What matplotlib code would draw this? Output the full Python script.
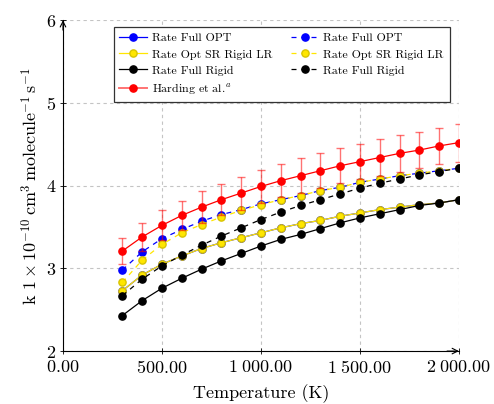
import matplotlib
matplotlib.use('Agg')
import matplotlib.pyplot as plt
from matplotlib.ticker import FuncFormatter, MultipleLocator

plt.rcParams.update({
    'font.family': 'serif',
    'font.serif': ['cmr10', 'DejaVu Serif'],
    'mathtext.fontset': 'cm',
    'axes.unicode_minus': False,
    'axes.formatter.use_mathtext': True,
})

# temperatures (K)
temps = [300, 400, 500, 600, 700, 800, 900, 1000, 1100, 1200,
         1300, 1400, 1500, 1600, 1700, 1800, 1900, 2000]

# rate constants, 1e-10 cm3 molecule-1 s-1
full_opt = [2.73, 2.92, 3.05, 3.15, 3.24, 3.31, 3.37, 3.43, 3.49, 3.54,
            3.58, 3.63, 3.67, 3.71, 3.74, 3.77, 3.79, 3.83]
full_opt_d = [2.98, 3.20, 3.36, 3.47, 3.57, 3.65, 3.71, 3.78, 3.83, 3.88,
              3.94, 3.98, 4.04, 4.08, 4.12, 4.15, 4.18, 4.21]
opt_sr = [2.73, 2.92, 3.05, 3.15, 3.24, 3.31, 3.37, 3.43, 3.49, 3.54,
          3.58, 3.63, 3.67, 3.71, 3.74, 3.77, 3.79, 3.83]
opt_sr_d = [2.83, 3.10, 3.29, 3.43, 3.53, 3.62, 3.70, 3.77, 3.83, 3.88,
            3.94, 3.98, 4.04, 4.08, 4.12, 4.15, 4.18, 4.21]
full_rigid = [2.43, 2.61, 2.76, 2.88, 2.99, 3.09, 3.18, 3.27, 3.35, 3.41,
              3.48, 3.55, 3.61, 3.66, 3.71, 3.76, 3.79, 3.83]
full_rigid_d = [2.67, 2.87, 3.03, 3.16, 3.28, 3.39, 3.49, 3.59, 3.68, 3.76,
                3.83, 3.90, 3.97, 4.03, 4.08, 4.13, 4.17, 4.21]
harding = [3.21, 3.38, 3.52, 3.64, 3.74, 3.83, 3.91, 3.99, 4.06, 4.12,
           4.18, 4.24, 4.29, 4.34, 4.39, 4.43, 4.48, 4.52]
harding_err = [0.16, 0.17, 0.18, 0.18, 0.19, 0.19, 0.20, 0.20, 0.20, 0.21,
               0.21, 0.21, 0.21, 0.22, 0.22, 0.22, 0.22, 0.23]

BLUE = '#0000ff'
YEL = '#ffe600'
BLK = '#000000'
RED = '#ff0000'

fig = plt.figure(figsize=(4.94, 4.04), dpi=100)
ax = fig.add_axes([0.1275, 0.131, 0.8015, 0.819])

kw = dict(marker='o', ms=5.2, lw=0.9)
dash = (4, 4)
h1, = ax.plot(temps, full_opt, color=BLUE, mec=BLUE, **kw)
h2, = ax.plot(temps, full_opt_d, color=BLUE, mec=BLUE, dashes=dash, **kw)
h3, = ax.plot(temps, opt_sr, color=YEL, mec='#d8c400', **kw)
h4, = ax.plot(temps, opt_sr_d, color=YEL, mec='#d8c400', dashes=dash, **kw)
h5, = ax.plot(temps, full_rigid, color=BLK, mec=BLK, **kw)
h6, = ax.plot(temps, full_rigid_d, color=BLK, mec=BLK, dashes=dash, **kw)
eb = ax.errorbar(temps, harding, yerr=harding_err, color=RED, mec=RED,
                 ecolor=(1, 0, 0, 0.55), elinewidth=1.0, capsize=3, capthick=1.0, **kw)
h7, = ax.plot([], [], color=(1, 0.45, 0.45), marker='o', ms=5.2, mfc=RED, mec=RED, lw=1.4)

ax.set_xlim(0, 2000)
ax.set_ylim(2, 6)
ax.xaxis.set_major_locator(MultipleLocator(500))
ax.yaxis.set_major_locator(MultipleLocator(1))
ax.xaxis.set_major_formatter(FuncFormatter(
    lambda v, p: '$' + f'{v:,.2f}'.replace(',', r'\;') + '$'))
ax.yaxis.set_major_formatter(FuncFormatter(lambda v, p: f'${v:.0f}$'))

ax.grid(True, color='#c4c4c4', lw=0.8, dashes=(3, 3))
ax.set_axisbelow(True)
for s in ('top', 'right'):
    ax.spines[s].set_visible(False)
for s in ('left', 'bottom'):
    ax.spines[s].set_linewidth(0.8)
ax.tick_params(direction='inout', length=4, width=0.6, labelsize=13)
ax.tick_params(axis='x', pad=4)
ax.tick_params(axis='y', pad=3)

# arrow heads on the axis lines
ax.annotate('', xy=(1.0, 0), xytext=(0.97, 0), xycoords='axes fraction',
            arrowprops=dict(arrowstyle='->', lw=0.8, color='k', shrinkA=0, shrinkB=0))
ax.annotate('', xy=(0, 1.0), xytext=(0, 0.97), xycoords='axes fraction',
            arrowprops=dict(arrowstyle='->', lw=0.8, color='k', shrinkA=0, shrinkB=0))

ax.set_xlabel('Temperature (K)', fontsize=13, labelpad=6)
ax.set_ylabel(r'k $1\times10^{-10}\,\mathrm{cm}^{3}\,\mathrm{molecule}^{-1}\,\mathrm{s}^{-1}$',
              fontsize=13, labelpad=4)

handles = [h1, h3, h5, h7, h2, h4, h6]
labels = ['Rate Full OPT', 'Rate Opt SR Rigid LR', 'Rate Full Rigid', 'Harding et al.$^{a}$',
          'Rate Full OPT', 'Rate Opt SR Rigid LR', 'Rate Full Rigid']
leg = ax.legend(handles, labels, ncol=2, loc='upper right', bbox_to_anchor=(0.977, 0.979),
                fontsize=8.6, fancybox=False, edgecolor='#333333', framealpha=1,
                borderpad=0.5, labelspacing=0.48, handlelength=2.3, handletextpad=0.4,
                columnspacing=1.6, borderaxespad=0)
leg.get_frame().set_linewidth(0.9)

fig.savefig('out.png', dpi=100)
